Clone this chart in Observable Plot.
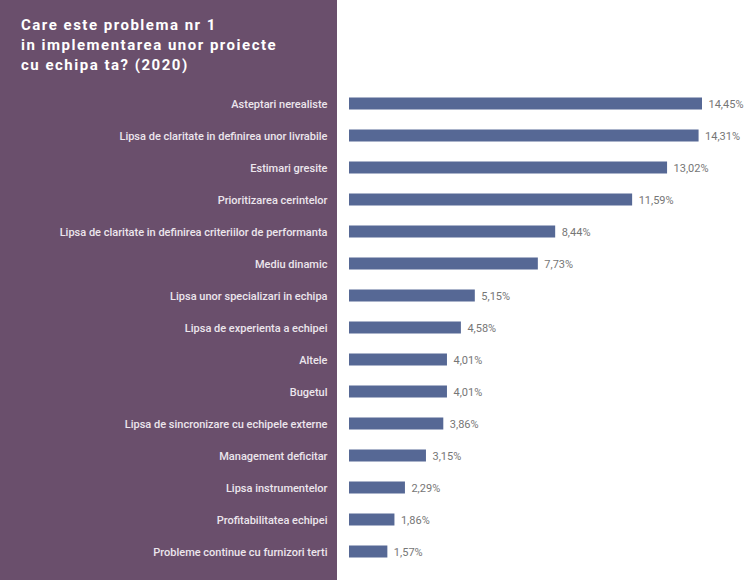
<!DOCTYPE html>
<html>
<head>
<meta charset="utf-8">
<script src="https://cdn.jsdelivr.net/npm/d3@7"></script>
<script src="https://cdn.jsdelivr.net/npm/@observablehq/plot@0.6"></script>
<style>
  html, body { margin: 0; padding: 0; background: #fff; }
  #wrap { position: relative; width: 747px; height: 580px; overflow: hidden; }
  #panel { position: absolute; left: 0; top: 0; width: 337px; height: 580px; background: #6a4f6c; }
  #title { position: absolute; left: 21px; top: 15px; margin: 0; color: #fff;
           font: bold 15px Roboto, sans-serif; line-height: 20px; letter-spacing: 1.5px; }
  #chart { position: absolute; left: 0; top: 0; }
  #chart svg { background: transparent; }
</style>
</head>
<body>
<div id="wrap">
  <div id="panel"></div>
  <div id="chart"></div>
  <p id="title">Care este problema nr 1<br>in implementarea unor proiecte<br>cu echipa ta? (2020)</p>
</div>
<script>
const categories = [
  "Asteptari nerealiste",
  "Lipsa de claritate in definirea unor livrabile",
  "Estimari gresite",
  "Prioritizarea cerintelor",
  "Lipsa de claritate in definirea criteriilor de performanta",
  "Mediu dinamic",
  "Lipsa unor specializari in echipa",
  "Lipsa de experienta a echipei",
  "Altele",
  "Bugetul",
  "Lipsa de sincronizare cu echipele externe",
  "Management deficitar",
  "Lipsa instrumentelor",
  "Profitabilitatea echipei",
  "Probleme continue cu furnizori terti"
];
const values = [14.45, 14.31, 13.02, 11.59, 8.44, 7.73, 5.15, 4.58, 4.01, 4.01, 3.86, 3.15, 2.29, 1.86, 1.57];

const data = categories.map((c, i) => ({category: c, value: values[i]}));
const fmt = v => v.toFixed(2).replace(".", ",") + "%";

const chart = Plot.plot({
  width: 747,
  height: 580,
  marginLeft: 349,
  marginRight: 45,
  marginTop: 77.5,
  marginBottom: 2.5,
  style: {fontFamily: "Roboto, sans-serif", fontSize: "11px", background: "transparent"},
  x: {domain: [0, 14.45], axis: null},
  y: {domain: categories, padding: 0.625, round: false, label: null},
  marks: [
    Plot.axisY({tickSize: 0, tickPadding: 22, fill: "#ece6ec", fontSize: 11, fontWeight: 500, label: null}),
    Plot.barX(data, {x: "value", y: "category", fill: "#566895"}),
    Plot.text(data, {x: "value", y: "category", text: d => fmt(d.value), textAnchor: "start", dx: 6, fill: "#767676", fontSize: 11})
  ]
});
document.getElementById("chart").appendChild(chart);
</script>
</body>
</html>
